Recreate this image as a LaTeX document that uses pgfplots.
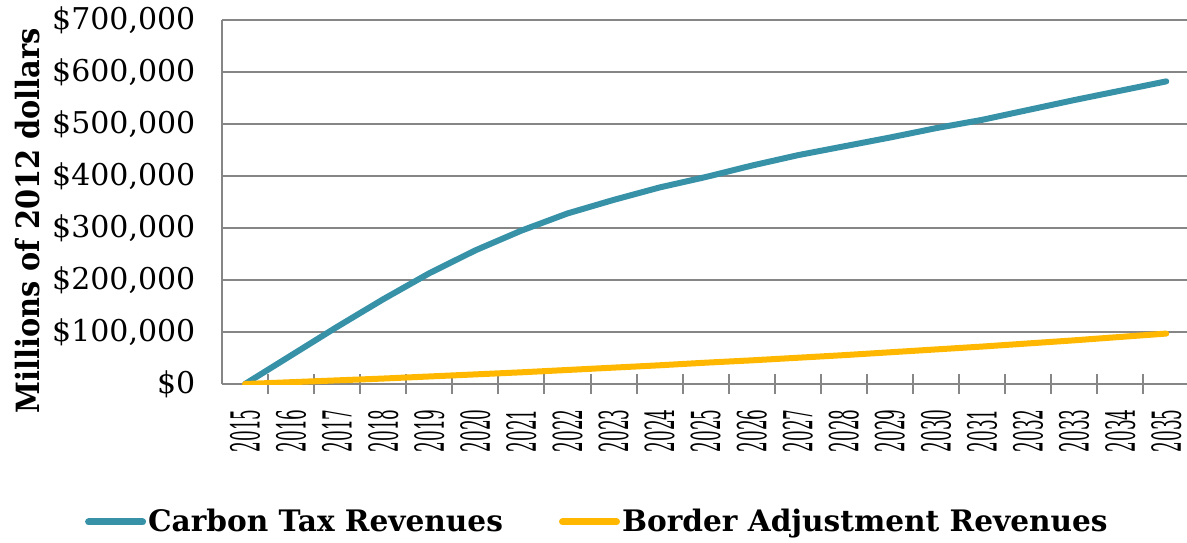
\documentclass[border=0pt]{standalone}
\usepackage{pgfplots}
\pgfplotsset{compat=1.18}
\usepackage{fontspec}
\setmainfont{DejaVu Serif}
\definecolor{carbon}{RGB}{55,146,168}
\definecolor{border}{RGB}{255,183,0}
\definecolor{gridc}{RGB}{134,134,134}

\begin{document}
\begin{tikzpicture}
\path[use as bounding box] (-111pt,-79pt) rectangle (482.5pt,192pt);
\begin{axis}[
  at={(0pt,0pt)}, anchor=south west,
  scale only axis, width=482.5pt, height=182pt,
  xmin=2014.5, xmax=2035.45, ymin=0, ymax=700000,
  axis x line*=bottom, axis y line*=left,
  axis line style={gridc, line width=1pt, -},
  ymajorgrids, grid style={gridc, line width=1pt},
  scaled y ticks=false,
  ytick={0,100000,200000,300000,400000,500000,600000,700000},
  yticklabels={\$0,\$100{,}000,\$200{,}000,\$300{,}000,\$400{,}000,\$500{,}000,\$600{,}000,\$700{,}000},
  ytick style={draw=none},
  yticklabel style={font=\fontsize{15}{15}\selectfont, anchor=east, inner sep=0pt},
  yticklabel shift=11pt,
  xtick={2015,2016,2017,2018,2019,2020,2021,2022,2023,2024,2025,2026,2027,2028,2029,2030,2031,2032,2033,2034,2035},
  xticklabels={2015,2016,2017,2018,2019,2020,2021,2022,2023,2024,2025,2026,2027,2028,2029,2030,2031,2032,2033,2034,2035},
  major x tick style={draw=none},
  minor xtick={2015.5,2016.5,2017.5,2018.5,2019.5,2020.5,2021.5,2022.5,2023.5,2024.5,2025.5,2026.5,2027.5,2028.5,2029.5,2030.5,2031.5,2032.5,2033.5,2034.5},
  minor x tick style={gridc, line width=1pt},
  minor tick length=10pt, tick align=center,
  xticklabel style={font=\fontsize{20}{20}\selectfont, rotate=90, xscale=0.42, anchor=east, inner sep=0pt},
  xticklabel shift=10.5pt,
  ylabel={Millions of 2012 dollars},
  ylabel style={font=\fontsize{16}{16}\selectfont\bfseries, at={(axis description cs:-0.201,0.448)}, anchor=center, xscale=0.9},
  legend style={draw=none, fill=none, at={(0.389,-0.379)}, anchor=center,
    legend columns=2, font=\fontsize{14.8}{14.8}\selectfont\bfseries,
    /tikz/every even column/.append style={column sep=27pt},
    nodes={inner sep=1pt}},
  legend image code/.code={\draw[#1, line width=3.5pt, line cap=round] (0pt,0pt) -- (27pt,0pt);},
]
\addplot[carbon, line width=3pt, line cap=round, line join=round] coordinates {
  (2015,0) (2016,55000) (2017,110000) (2018,163000) (2019,213000)
  (2020,257000) (2021,295000) (2022,328000) (2023,354000) (2024,378000)
  (2025,398000) (2026,420000) (2027,440000) (2028,457000) (2029,474000)
  (2030,492000) (2031,508000) (2032,527000) (2033,546000) (2034,564000)
  (2035,582000)};
\addlegendentry{Carbon Tax Revenues}
\addplot[border, line width=3pt, line cap=round, line join=round] coordinates {
  (2015,0) (2016,3500) (2017,7000) (2018,10500) (2019,14500)
  (2020,18500) (2021,22500) (2022,27000) (2023,31500) (2024,36000)
  (2025,41000) (2026,45500) (2027,50500) (2028,55500) (2029,61000)
  (2030,66500) (2031,72000) (2032,78000) (2033,84000) (2034,90500)
  (2035,97000)};
\addlegendentry{Border Adjustment Revenues}
\end{axis}
\end{tikzpicture}
\end{document}
